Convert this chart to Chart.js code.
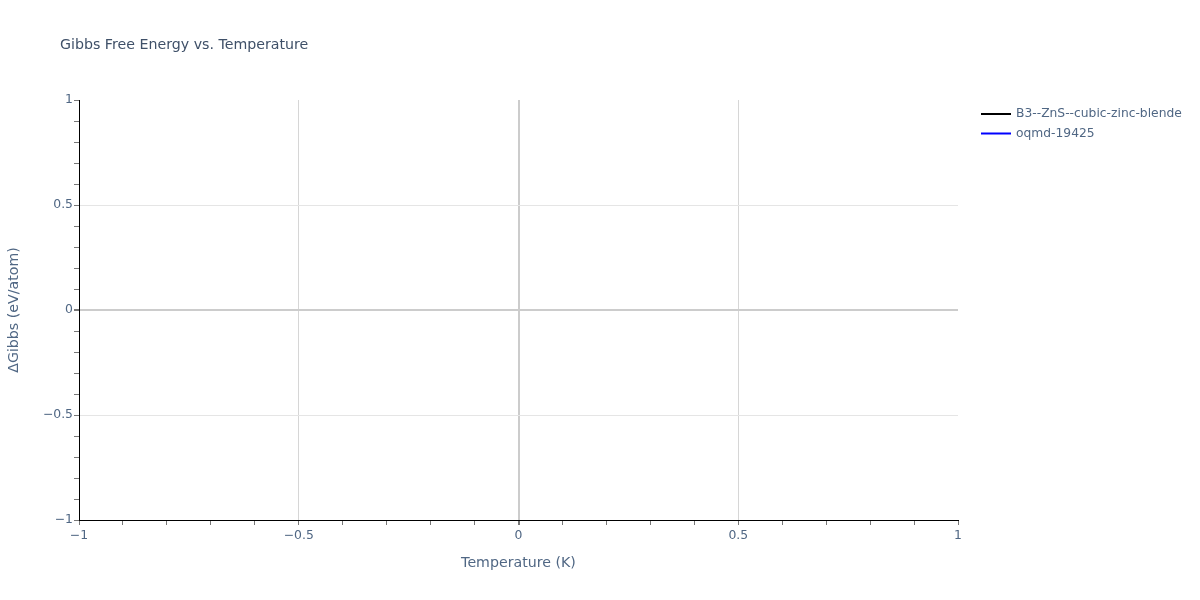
<!DOCTYPE html>
<html>
<head>
<meta charset="utf-8">
<script src="https://cdn.jsdelivr.net/npm/chart.js@4/dist/chart.umd.min.js"></script>
<style>
  html, body { margin: 0; padding: 0; background: #fff; }
  #wrap { width: 1200px; height: 600px; }
</style>
</head>
<body>
<div id="wrap"><canvas id="chart"></canvas></div>
<script>
const chartTitle = 'Gibbs Free Energy vs. Temperature';
const seriesNames = ['B3--ZnS--cubic-zinc-blende', 'oqmd-19425'];
const seriesColors = ['#000000', '#0000ff'];
// both traces are empty in the source plot
const seriesValues = [[], []];
const axisRange = [-1, 1];
const tickStep = 0.1;

const textColor = '#506784';
const titleColor = '#3f5068';
const fontFamily = '"DejaVu Sans", Verdana, sans-serif';

function isMajor(v) {
    return Math.abs(v * 2 - Math.round(v * 2)) < 1e-6;
}

function fmt(v) {
    if (!isMajor(v)) return '';
    const r = Math.round(v * 2) / 2;
    return r < 0 ? '\u2212' + String(-r) : String(r);
}

function gridColor(ctx, vertical) {
    const v = ctx.tick ? ctx.tick.value : 0;
    if (Math.abs(v) < 1e-6) return '#cccccc';
    if (!isMajor(v) || Math.abs(Math.abs(v) - 1) < 1e-6) return 'rgba(0,0,0,0)';
    return vertical ? '#d6d6d6' : '#e5e5e5';
}

const overlay = {
    id: 'overlay',
    afterDraw(chart) {
        const ctx = chart.ctx;
        ctx.save();
        ctx.fillStyle = titleColor;
        ctx.textBaseline = 'middle';
        ctx.textAlign = 'left';
        ctx.font = '14.2px ' + fontFamily;
        ctx.fillText(chartTitle, 60, 45);

        ctx.fillStyle = textColor;
        ctx.font = '12.3px ' + fontFamily;
        chart.data.datasets.forEach((ds, i) => {
            const y = 114 + i * 19.5;
            ctx.strokeStyle = ds.borderColor;
            ctx.lineWidth = 2;
            ctx.beginPath();
            ctx.moveTo(981, y);
            ctx.lineTo(1011, y);
            ctx.stroke();
            ctx.fillText(ds.label, 1016, y);
        });
        ctx.restore();
    }
};

const tickFont = { family: fontFamily, size: 12.4 };
const titleFont = { family: fontFamily, size: 14.2 };

new Chart(document.getElementById('chart'), {
    type: 'line',
    data: {
        datasets: seriesNames.map((name, i) => ({
            label: name,
            data: seriesValues[i],
            borderColor: seriesColors[i],
            backgroundColor: seriesColors[i],
            borderWidth: 2,
            pointRadius: 0
        }))
    },
    options: {
        responsive: true,
        maintainAspectRatio: false,
        animation: false,
        layout: { padding: { left: 0, top: 100, right: 242, bottom: 0 } },
        plugins: {
            legend: { display: false },
            title: { display: false },
            tooltip: { enabled: false }
        },
        scales: {
            x: {
                type: 'linear',
                min: axisRange[0],
                max: axisRange[1],
                afterFit: s => { s.height = 80; },
                ticks: {
                    stepSize: tickStep,
                    autoSkip: false,
                    maxRotation: 0,
                    padding: 3,
                    color: textColor,
                    font: tickFont,
                    callback: v => fmt(v)
                },
                grid: {
                    color: ctx => gridColor(ctx, true),
                    lineWidth: ctx => (ctx.tick && Math.abs(ctx.tick.value) < 1e-6 ? 2 : 1),
                    tickColor: '#777777',
                    tickLength: 5
                },
                border: { color: '#000000', width: 1 },
                title: {
                    display: true,
                    text: 'Temperature (K)',
                    color: textColor,
                    font: titleFont,
                    padding: { top: 0, bottom: 28 }
                }
            },
            y: {
                type: 'linear',
                min: axisRange[0],
                max: axisRange[1],
                afterFit: s => { s.width = 79; },
                ticks: {
                    stepSize: tickStep,
                    autoSkip: false,
                    padding: 1,
                    color: textColor,
                    font: tickFont,
                    callback: v => fmt(v)
                },
                grid: {
                    color: ctx => gridColor(ctx, false),
                    lineWidth: ctx => (ctx.tick && Math.abs(ctx.tick.value) < 1e-6 ? 2 : 1),
                    tickColor: '#777777',
                    tickLength: 5
                },
                border: { color: '#000000', width: 1 },
                title: {
                    display: true,
                    text: '\u0394Gibbs (eV/atom)',
                    color: textColor,
                    font: titleFont,
                    padding: { top: 6, bottom: 0 }
                }
            }
        }
    },
    plugins: [overlay]
});
</script>
</body>
</html>
